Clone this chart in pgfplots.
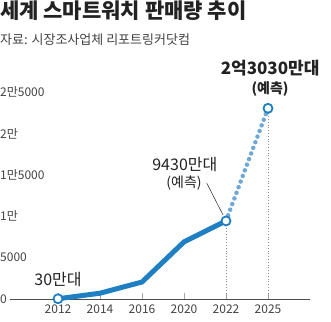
\documentclass[border=0pt]{standalone}
\usepackage{pgfplots}
\pgfplotsset{compat=1.18}
\usepackage{fontspec}
\setmainfont{Noto Sans CJK KR}
\definecolor{lineblue}{HTML}{1F7FC3}
\definecolor{dotblue}{HTML}{6FA8D6}
\definecolor{txt}{HTML}{222222}
\begin{document}
\begin{tikzpicture}[x=1pt,y=1pt]
\path[use as bounding box] (0,0) rectangle (331,321);
\node[anchor=base west, inner sep=0, font=\fontsize{21}{21}\selectfont\bfseries, text=txt] at (0,302) {세계 스마트워치 판매량 추이};
\node[anchor=base west, inner sep=0, font=\fontsize{13}{13}\selectfont, text=txt!85] at (0,276) {자료: 시장조사업체 리포트링커닷컴};
\begin{axis}[
  at={(10pt,22pt)}, anchor=south west,
  width=300pt, height=207pt, scale only axis,
  xmin=-1.143, xmax=6, ymin=0, ymax=25000,
  scaled y ticks=false,
  axis lines*=left,
  y axis line style={draw=none},
  x axis line style={draw=black!70, line width=0.8pt},
  ytick={0,5000,10000,15000,20000,25000},
  yticklabels={0,5000,1만,1만5000,2만,2만5000},
  ytick style={draw=none},
  yticklabel style={anchor=west, inner sep=0pt, xshift=-10pt, text=txt!85},
  xtick={0,1,2,3,4,5},
  xticklabels={2012,2014,2016,2020,2022,2025},
  xtick style={draw=black!35, line width=0.6pt},
  tick align=inside, major tick length=6pt,
  xticklabel style={text=txt!85, yshift=-2pt},
  tick label style={font=\fontsize{12}{12}\selectfont},
  clip=false,
]
\addplot[black!45, dotted, line width=0.8pt, ycomb, mark=none] coordinates {(4,9430) (5,23030)};
\addplot[dotblue, line width=4.5pt, line cap=round, dash pattern=on 0pt off 6pt] coordinates {(4,9430) (5,23030)};
\addplot[lineblue, line width=5pt, line join=round] coordinates {(0,30) (1,700) (2,2050) (3,6900) (4,9430)};
\addplot[only marks, mark=*, mark size=4.5pt, mark options={draw=lineblue, fill=white, line width=1.8pt}] coordinates {(0,30) (4,9430) (5,23030)};
\draw[txt, line width=0.5pt] (axis cs:3.54,14010) -- (axis cs:3.93,10145);
\node[font=\fontsize{16}{16}\selectfont, text=txt] at (axis cs:0,2295) {30만대};
\node[font=\fontsize{16}{16}\selectfont, text=txt] at (axis cs:3.02,16200) {9430만대};
\node[font=\fontsize{14}{14}\selectfont, text=txt] at (axis cs:3.0,14000) {(예측)};
\node[font=\fontsize{17}{17}\selectfont\bfseries, text=txt] at (axis cs:5.05,27900) {2억3030만대};
\node[font=\fontsize{14}{14}\selectfont\bfseries, text=txt] at (axis cs:5.05,25300) {(예측)};
\end{axis}
\end{tikzpicture}
\end{document}
